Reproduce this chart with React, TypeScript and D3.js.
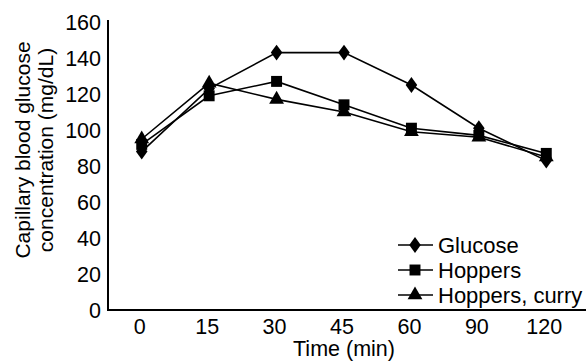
import { useMemo } from "react";
import * as d3 from "d3";

// ---- data ----
const times = ["0", "15", "30", "45", "60", "90", "120"];
const glucose = [88, 123, 143, 143, 125, 101, 83];
const hoppers = [92, 119, 127, 114, 101, 97, 87];
const hoppersCurry = [95, 126, 117, 110, 99, 96, 85];
const yTicks = [0, 20, 40, 60, 80, 100, 120, 140, 160];

const seriesNames = ["Glucose", "Hoppers", "Hoppers, curry"];
const seriesValues = [glucose, hoppers, hoppersCurry];
const seriesSymbols = [d3.symbolDiamond, d3.symbolSquare, d3.symbolTriangle];
const symbolSizes = [80, 120, 95];

const W = 586;
const H = 362;
const FONT = "'Liberation Sans', Arial, sans-serif";

export default function App() {
  const x = useMemo(
    () => d3.scalePoint<string>().domain(times).range([108, 580]).padding(0.5),
    []
  );
  const y = useMemo(() => d3.scaleLinear().domain([0, 160]).range([310, 22]), []);

  const line = d3
    .line<number>()
    .x((_, i) => x(times[i])!)
    .y((d) => y(d));

  const symbolPath = (k: number) =>
    d3.symbol().type(seriesSymbols[k]).size(symbolSizes[k])()!;
  // the reference diamond is a bit wider than d3's default
  const symbolStretch = (k: number) => (k === 0 ? " scale(1.2,0.95)" : "");

  return (
    <svg
      width={W}
      height={H}
      style={{ position: "absolute", left: 0, top: 0, background: "#fff" }}
      fontFamily={FONT}
    >
      {/* axes */}
      <line x1={108} x2={108} y1={20} y2={y(0)} stroke="#000" strokeWidth={2} />
      <line x1={107} x2={586} y1={y(0)} y2={y(0)} stroke="#000" strokeWidth={2} />

      {yTicks.map((t) => (
        <text
          key={t}
          x={101}
          y={y(t)}
          dy="0.36em"
          textAnchor="end"
          fontSize={21.5}
          fill="#000"
        >
          {t}
        </text>
      ))}
      {times.map((t) => (
        <text
          key={t}
          x={x(t)! - 2}
          y={326}
          dy="0.36em"
          textAnchor="middle"
          fontSize={21.5}
          fill="#000"
        >
          {t}
        </text>
      ))}

      {/* axis titles */}
      <text x={344} y={356} textAnchor="middle" fontSize={21.5} fill="#000">
        Time (min)
      </text>
      <g transform="translate(22,150) rotate(-90)">
        <text x={0} y={0} dy="0.36em" textAnchor="middle" fontSize={21} fill="#000">
          Capillary blood glucose
        </text>
        <text x={0} y={23} dy="0.36em" textAnchor="middle" fontSize={21} fill="#000">
          concentration (mg/dL)
        </text>
      </g>

      {/* series */}
      {seriesValues.map((vals, k) => (
        <g key={seriesNames[k]}>
          <path d={line(vals)!} fill="none" stroke="#000" strokeWidth={1.6} />
          {vals.map((v, i) => (
            <path
              key={i}
              d={symbolPath(k)}
              transform={`translate(${x(times[i])},${y(v)})${symbolStretch(k)}`}
              fill="#000"
            />
          ))}
        </g>
      ))}

      {/* legend */}
      {seriesNames.map((name, k) => {
        const ly = 245 + k * 25;
        return (
          <g key={name}>
            <line x1={398} x2={433} y1={ly} y2={ly} stroke="#000" strokeWidth={1.6} />
            <path
              d={symbolPath(k)}
              transform={`translate(415,${ly})${symbolStretch(k)}`}
              fill="#000"
            />
            <text x={438} y={ly} dy="0.36em" fontSize={22} fill="#000">
              {name}
            </text>
          </g>
        );
      })}
    </svg>
  );
}
